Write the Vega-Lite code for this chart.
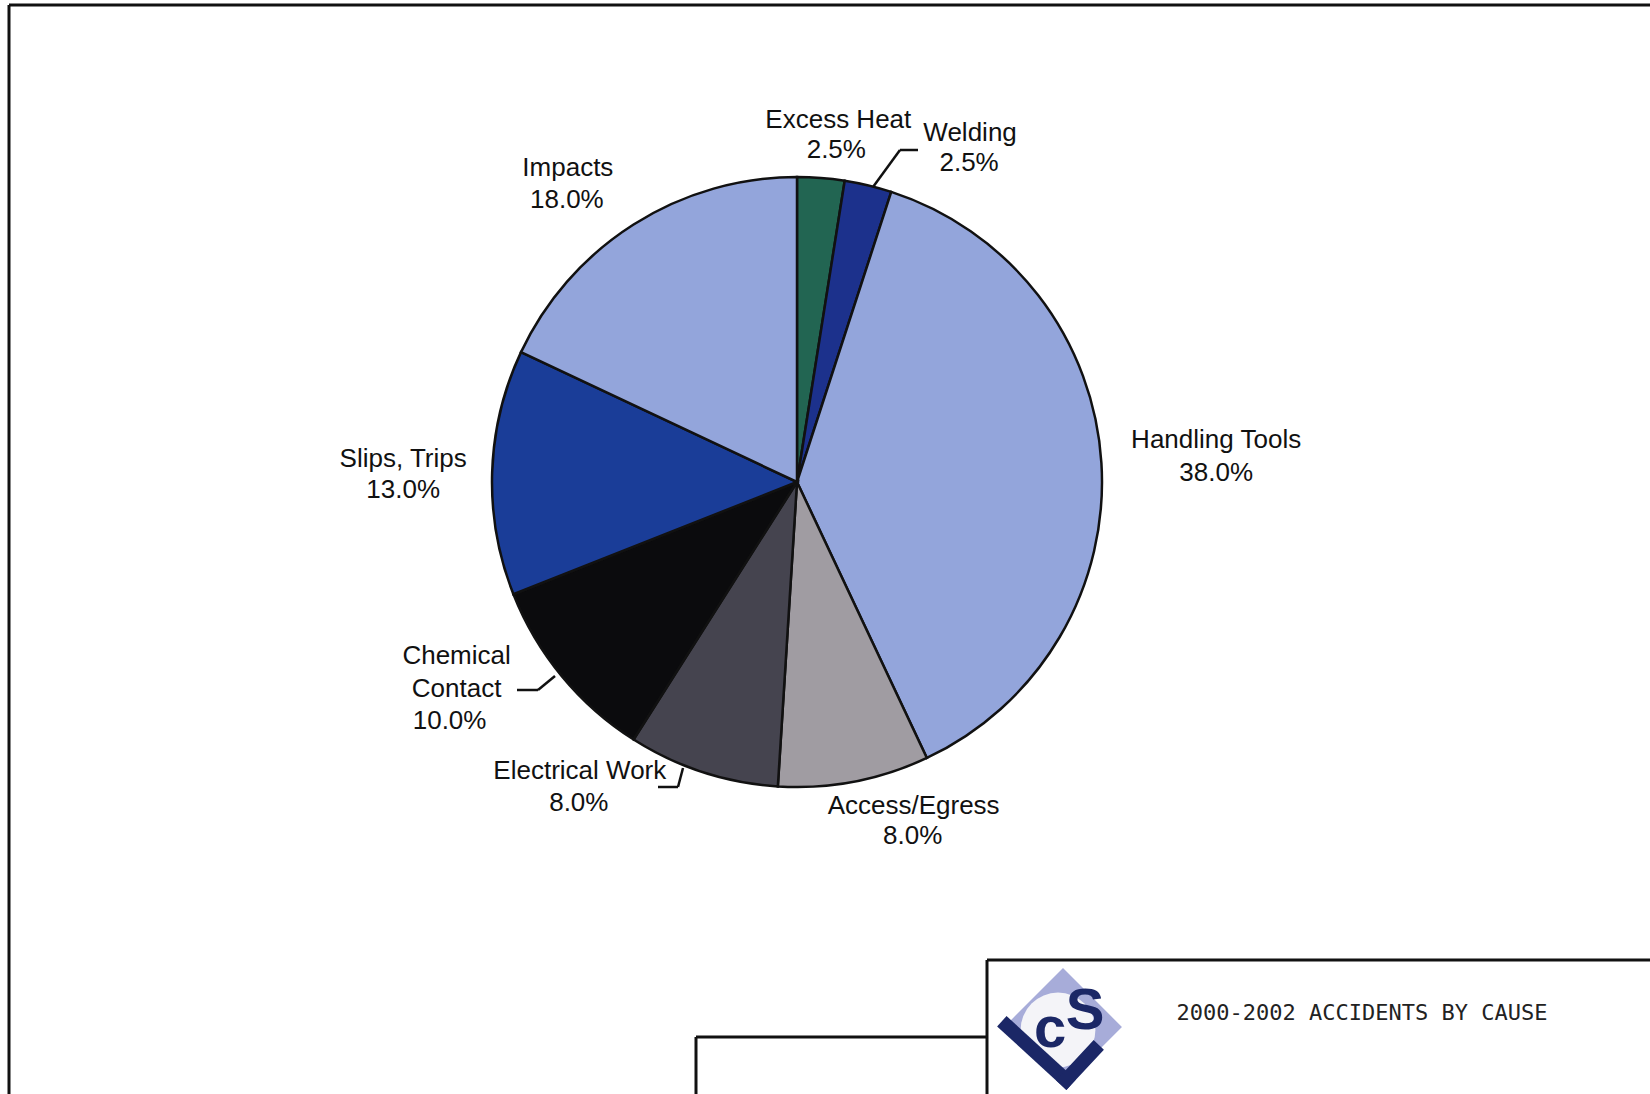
{
  "$schema": "https://vega.github.io/schema/vega-lite/v6.json",
  "width": 1594,
  "height": 964,
  "autosize": {"type": "none"},
  "padding": {"left": 0, "top": 0, "right": 56, "bottom": 130},
  "background": "white",
  "config": {"view": {"stroke": null}, "text": {"font": "Liberation Sans", "color": "#111"}},
  "datasets": {
    "slices": [
      {"cause": "Excess Heat", "share": 0.025, "rank": 1},
      {"cause": "Welding", "share": 0.025, "rank": 2},
      {"cause": "Handling Tools", "share": 0.38, "rank": 3},
      {"cause": "Access/Egress", "share": 0.08, "rank": 4},
      {"cause": "Electrical Work", "share": 0.08, "rank": 5},
      {"cause": "Chemical Contact", "share": 0.10, "rank": 6},
      {"cause": "Slips, Trips", "share": 0.13, "rank": 7},
      {"cause": "Impacts", "share": 0.18, "rank": 8}
    ],
    "frame": [
      {"x": 9, "y": 5, "x2": 1650, "y2": 5},
      {"x": 9, "y": 5, "x2": 9, "y2": 1094},
      {"x": 987, "y": 960, "x2": 1650, "y2": 960},
      {"x": 987, "y": 960, "x2": 987, "y2": 1094},
      {"x": 696, "y": 1037, "x2": 987, "y2": 1037},
      {"x": 696, "y": 1037, "x2": 696, "y2": 1094}
    ],
    "leaders": [
      {"x": 918, "y": 150, "x2": 900, "y2": 150},
      {"x": 900, "y": 150, "x2": 873, "y2": 187},
      {"x": 517, "y": 690, "x2": 538, "y2": 690},
      {"x": 538, "y": 690, "x2": 555, "y2": 676},
      {"x": 658, "y": 787, "x2": 678, "y2": 787},
      {"x": 678, "y": 787, "x2": 683, "y2": 768}
    ],
    "logoV": [
      {"x": 1007, "y": 1026, "x2": 1066, "y2": 1080},
      {"x": 1066, "y": 1080, "x2": 1094, "y2": 1050}
    ]
  },
  "layer": [
    {
      "data": {"name": "frame"},
      "mark": {"type": "rule", "color": "#111", "strokeWidth": 3},
      "encoding": {
        "x": {"field": "x", "type": "quantitative", "scale": {"domain": [0, 1594], "nice": false, "zero": false}, "axis": null},
        "y": {"field": "y", "type": "quantitative", "scale": {"domain": [0, 964], "nice": false, "zero": false, "reverse": true}, "axis": null},
        "x2": {"field": "x2"},
        "y2": {"field": "y2"}
      }
    },
    {
      "data": {"name": "leaders"},
      "mark": {"type": "rule", "color": "#111", "strokeWidth": 2.5},
      "encoding": {
        "x": {"field": "x", "type": "quantitative", "scale": {"domain": [0, 1594], "nice": false, "zero": false}, "axis": null},
        "y": {"field": "y", "type": "quantitative", "scale": {"domain": [0, 964], "nice": false, "zero": false, "reverse": true}, "axis": null},
        "x2": {"field": "x2"},
        "y2": {"field": "y2"}
      }
    },
    {
      "data": {"name": "slices"},
      "encoding": {
        "theta": {"field": "share", "type": "quantitative", "stack": true},
        "order": {"field": "rank", "type": "quantitative"}
      },
      "layer": [
        {
          "mark": {"type": "arc", "radius": 305, "stroke": "#111", "strokeWidth": 2.5},
          "encoding": {
            "color": {
              "field": "cause", "type": "nominal", "legend": null,
              "scale": {
                "domain": ["Excess Heat", "Welding", "Handling Tools", "Access/Egress", "Electrical Work", "Chemical Contact", "Slips, Trips", "Impacts"],
                "range": ["#226552", "#1c318c", "#93a5db", "#a09ca2", "#45444f", "#0b0b0d", "#1a3d98", "#93a5db"]
              }
            }
          }
        },
        {"mark": {"type": "text", "radius": 348, "dx": 14, "dy": -15, "fontSize": 26, "align": "center", "baseline": "middle"},
         "encoding": {"text": {"condition": {"test": "datum.cause === 'Excess Heat'", "field": "cause", "type": "nominal"}, "value": ""}}},
        {"mark": {"type": "text", "radius": 348, "dx": 12, "dy": 15, "fontSize": 26, "align": "center", "baseline": "middle"},
         "encoding": {"text": {"condition": {"test": "datum.cause === 'Excess Heat'", "field": "share", "type": "quantitative", "format": ".1%"}, "value": ""}}},
        {"mark": {"type": "text", "radius": 343, "dx": 93, "dy": -15, "fontSize": 26, "align": "center", "baseline": "middle"},
         "encoding": {"text": {"condition": {"test": "datum.cause === 'Welding'", "field": "cause", "type": "nominal"}, "value": ""}}},
        {"mark": {"type": "text", "radius": 343, "dx": 92, "dy": 15, "fontSize": 26, "align": "center", "baseline": "middle"},
         "encoding": {"text": {"condition": {"test": "datum.cause === 'Welding'", "field": "share", "type": "quantitative", "format": ".1%"}, "value": ""}}},
        {"mark": {"type": "text", "radius": 420, "dx": 0, "dy": -16, "fontSize": 26, "align": "center", "baseline": "middle"},
         "encoding": {"text": {"condition": {"test": "datum.cause === 'Handling Tools'", "field": "cause", "type": "nominal"}, "value": ""}}},
        {"mark": {"type": "text", "radius": 420, "dx": 0, "dy": 17, "fontSize": 26, "align": "center", "baseline": "middle"},
         "encoding": {"text": {"condition": {"test": "datum.cause === 'Handling Tools'", "field": "share", "type": "quantitative", "format": ".1%"}, "value": ""}}},
        {"mark": {"type": "text", "radius": 345, "dx": 52, "dy": -15, "fontSize": 26, "align": "center", "baseline": "middle"},
         "encoding": {"text": {"condition": {"test": "datum.cause === 'Access/Egress'", "field": "cause", "type": "nominal"}, "value": ""}}},
        {"mark": {"type": "text", "radius": 345, "dx": 51, "dy": 15, "fontSize": 26, "align": "center", "baseline": "middle"},
         "encoding": {"text": {"condition": {"test": "datum.cause === 'Access/Egress'", "field": "share", "type": "quantitative", "format": ".1%"}, "value": ""}}},
        {"mark": {"type": "text", "radius": 321, "dx": -118, "dy": -16, "fontSize": 26, "align": "center", "baseline": "middle"},
         "encoding": {"text": {"condition": {"test": "datum.cause === 'Electrical Work'", "field": "cause", "type": "nominal"}, "value": ""}}},
        {"mark": {"type": "text", "radius": 321, "dx": -119, "dy": 16, "fontSize": 26, "align": "center", "baseline": "middle"},
         "encoding": {"text": {"condition": {"test": "datum.cause === 'Electrical Work'", "field": "share", "type": "quantitative", "format": ".1%"}, "value": ""}}},
        {"mark": {"type": "text", "radius": 325, "dx": -90, "dy": -33, "fontSize": 26, "align": "center", "baseline": "middle", "lineBreak": " ", "lineHeight": 33},
         "encoding": {"text": {"condition": {"test": "datum.cause === 'Chemical Contact'", "field": "cause", "type": "nominal"}, "value": ""}}},
        {"mark": {"type": "text", "radius": 325, "dx": -97, "dy": 32, "fontSize": 26, "align": "center", "baseline": "middle"},
         "encoding": {"text": {"condition": {"test": "datum.cause === 'Chemical Contact'", "field": "share", "type": "quantitative", "format": ".1%"}, "value": ""}}},
        {"mark": {"type": "text", "radius": 394, "dx": 0, "dy": -11, "fontSize": 26, "align": "center", "baseline": "middle"},
         "encoding": {"text": {"condition": {"test": "datum.cause === 'Slips, Trips'", "field": "cause", "type": "nominal"}, "value": ""}}},
        {"mark": {"type": "text", "radius": 394, "dx": 0, "dy": 20, "fontSize": 26, "align": "center", "baseline": "middle"},
         "encoding": {"text": {"condition": {"test": "datum.cause === 'Slips, Trips'", "field": "share", "type": "quantitative", "format": ".1%"}, "value": ""}}},
        {"mark": {"type": "text", "radius": 353, "dx": -40, "dy": -16, "fontSize": 26, "align": "center", "baseline": "middle"},
         "encoding": {"text": {"condition": {"test": "datum.cause === 'Impacts'", "field": "cause", "type": "nominal"}, "value": ""}}},
        {"mark": {"type": "text", "radius": 353, "dx": -41, "dy": 16, "fontSize": 26, "align": "center", "baseline": "middle"},
         "encoding": {"text": {"condition": {"test": "datum.cause === 'Impacts'", "field": "share", "type": "quantitative", "format": ".1%"}, "value": ""}}}
      ]
    },
    {
      "data": {"values": [{}]},
      "mark": {"type": "point", "shape": "diamond", "filled": true, "size": 13900, "color": "#a7acd9", "opacity": 1},
      "encoding": {
        "x": {"datum": 1063, "type": "quantitative", "scale": {"domain": [0, 1594], "nice": false, "zero": false}},
        "y": {"datum": 1027, "type": "quantitative", "scale": {"domain": [0, 964], "nice": false, "zero": false, "reverse": true}}
      }
    },
    {
      "data": {"values": [{}]},
      "mark": {"type": "point", "shape": "circle", "filled": true, "size": 5600, "color": "#f4f4f8", "opacity": 1},
      "encoding": {
        "x": {"datum": 1058, "type": "quantitative", "scale": {"domain": [0, 1594], "nice": false, "zero": false}},
        "y": {"datum": 1030, "type": "quantitative", "scale": {"domain": [0, 964], "nice": false, "zero": false, "reverse": true}}
      }
    },
    {
      "data": {"name": "logoV"},
      "mark": {"type": "rule", "color": "#1b2766", "strokeWidth": 14, "strokeCap": "square"},
      "encoding": {
        "x": {"field": "x", "type": "quantitative", "scale": {"domain": [0, 1594], "nice": false, "zero": false}},
        "y": {"field": "y", "type": "quantitative", "scale": {"domain": [0, 964], "nice": false, "zero": false, "reverse": true}},
        "x2": {"field": "x2"},
        "y2": {"field": "y2"}
      }
    },
    {
      "data": {"values": [{}]},
      "mark": {"type": "text", "text": "c", "font": "Liberation Sans", "fontWeight": "bold", "fontSize": 58, "color": "#1b2766", "align": "center", "baseline": "middle"},
      "encoding": {
        "x": {"datum": 1050, "type": "quantitative", "scale": {"domain": [0, 1594], "nice": false, "zero": false}},
        "y": {"datum": 1030, "type": "quantitative", "scale": {"domain": [0, 964], "nice": false, "zero": false, "reverse": true}}
      }
    },
    {
      "data": {"values": [{}]},
      "mark": {"type": "text", "text": "S", "font": "Liberation Sans", "fontWeight": "bold", "fontSize": 58, "color": "#1b2766", "align": "center", "baseline": "middle"},
      "encoding": {
        "x": {"datum": 1085, "type": "quantitative", "scale": {"domain": [0, 1594], "nice": false, "zero": false}},
        "y": {"datum": 1012, "type": "quantitative", "scale": {"domain": [0, 964], "nice": false, "zero": false, "reverse": true}}
      }
    },
    {
      "data": {"values": [{}]},
      "mark": {"type": "text", "text": "2000-2002 ACCIDENTS BY CAUSE", "font": "DejaVu Sans Mono", "fontSize": 22, "color": "#222", "align": "center", "baseline": "middle"},
      "encoding": {
        "x": {"datum": 1362, "type": "quantitative", "scale": {"domain": [0, 1594], "nice": false, "zero": false}},
        "y": {"datum": 1013, "type": "quantitative", "scale": {"domain": [0, 964], "nice": false, "zero": false, "reverse": true}}
      }
    }
  ]
}
